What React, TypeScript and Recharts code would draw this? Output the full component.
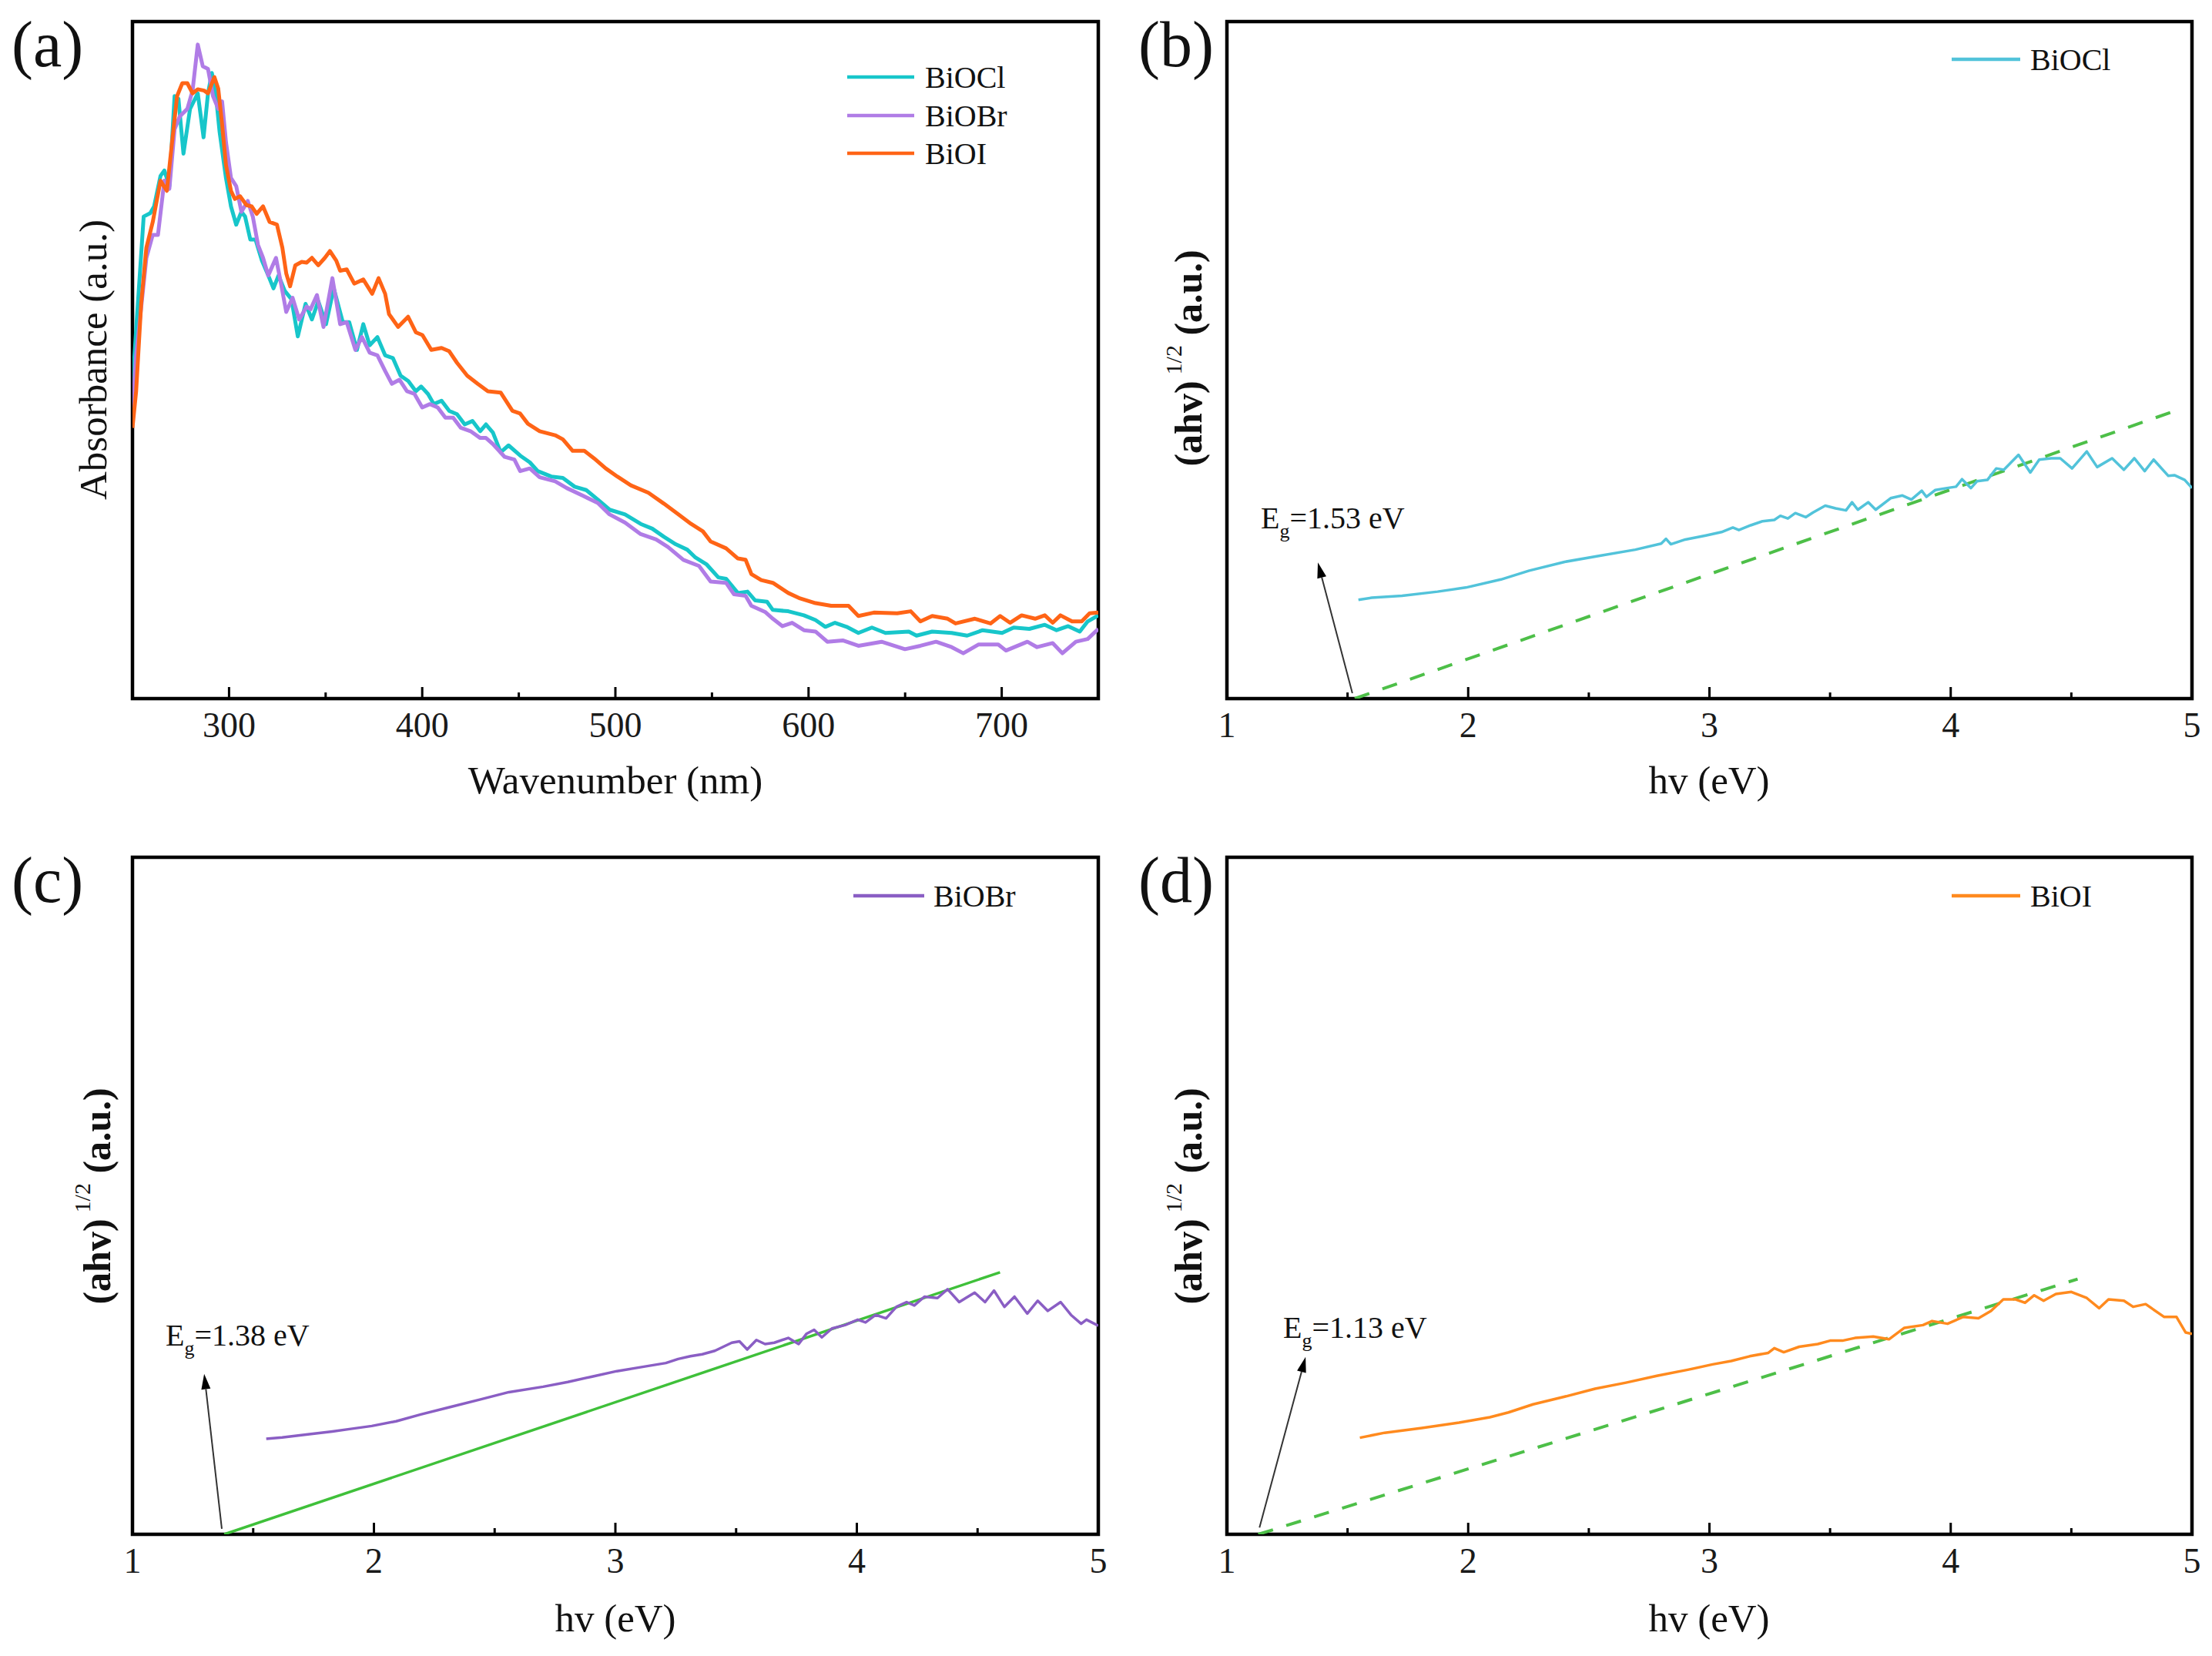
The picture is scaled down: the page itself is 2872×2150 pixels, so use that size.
import React from 'react';
import { LineChart, Line, XAxis, YAxis, ReferenceArea, ReferenceLine } from 'recharts';

const FONT = "'Liberation Serif', 'Times New Roman', Times, serif";

type Pt = [number, number];

// ---------- Panel (a): absorbance vs wavelength ----------
const WAVE_TICKS_MAJOR = [300, 400, 500, 600, 700];
const WAVE_TICKS_MINOR = [350, 450, 550, 650];

const BIOCL_ABS: Pt[] = [
  [250, 0.46], [251.9, 0.545], [255.8, 0.712], [259.2, 0.717], [261.2, 0.727], [264.5, 0.772], [266.5, 0.78],
  [269.1, 0.757], [271.8, 0.89], [273.8, 0.886], [276.4, 0.805], [279.8, 0.871], [283.8, 0.894], [286.8, 0.829],
  [289.1, 0.894], [291.1, 0.924], [293.1, 0.894], [295.1, 0.837], [298.4, 0.769], [301, 0.727], [303.7, 0.7],
  [306.4, 0.719], [308.3, 0.712], [311, 0.678], [313.7, 0.678], [317, 0.647], [320.3, 0.625], [323, 0.606],
  [325.6, 0.625], [328.9, 0.602], [332.3, 0.59], [335.6, 0.535], [339.6, 0.583], [342.9, 0.56], [346.2, 0.587],
  [350.2, 0.553], [354.2, 0.606], [358.9, 0.556], [362.2, 0.556], [366.2, 0.515], [369.5, 0.553], [372.8, 0.522],
  [376.8, 0.534], [380.8, 0.507], [384.8, 0.503], [388.8, 0.477], [392.8, 0.469], [396.7, 0.454], [399.4, 0.461],
  [403, 0.45], [406, 0.435], [410, 0.44], [414, 0.425], [418, 0.42], [422, 0.405], [426, 0.41], [430, 0.395],
  [433, 0.405], [436.6, 0.393], [440.6, 0.364], [444.7, 0.374], [450.7, 0.359], [455.7, 0.349], [459.8, 0.336],
  [466.8, 0.328], [472.8, 0.326], [478.9, 0.313], [484.9, 0.308], [490.9, 0.294], [497, 0.279], [505, 0.272],
  [513.1, 0.258], [519.1, 0.251], [525.1, 0.239], [531.2, 0.228], [537.2, 0.22], [541.2, 0.209], [547.3, 0.198],
  [553.3, 0.179], [557.3, 0.177], [563.4, 0.156], [568.4, 0.158], [572.4, 0.145], [578.5, 0.143], [581.5, 0.131],
  [589.5, 0.129], [597.6, 0.123], [603.6, 0.116], [608.7, 0.106], [613.7, 0.112], [619.7, 0.106], [625.8, 0.097],
  [632.8, 0.105], [639.8, 0.097], [651.9, 0.099], [655.9, 0.093], [664, 0.099], [674.1, 0.097], [682.1, 0.093],
  [690.1, 0.101], [700.2, 0.097], [706.2, 0.105], [714.3, 0.103], [722.3, 0.109], [728.4, 0.101], [734.4, 0.107],
  [740.4, 0.099], [744.5, 0.114], [750, 0.123],
];

const BIOBR_ABS: Pt[] = [
  [250, 0.42], [251.9, 0.507], [257.2, 0.651], [260.5, 0.685], [263.2, 0.685], [266.5, 0.765], [269.1, 0.753],
  [271.8, 0.841], [274.5, 0.86], [278.4, 0.871], [281.1, 0.898], [283.8, 0.966], [286.4, 0.934], [289.1, 0.93],
  [291.7, 0.89], [294.4, 0.871], [296.4, 0.882], [298.4, 0.822], [301, 0.769], [303.7, 0.757], [306.4, 0.719],
  [309.7, 0.735], [312.3, 0.712], [315, 0.67], [317.6, 0.651], [320.3, 0.625], [324.3, 0.651], [326.9, 0.613],
  [329.6, 0.571], [332.9, 0.592], [336.3, 0.56], [340.2, 0.579], [342.2, 0.575], [345.5, 0.596], [348.9, 0.549],
  [353.5, 0.621], [357.5, 0.553], [360.9, 0.556], [365.4, 0.515], [368.8, 0.534], [372.8, 0.511], [376.8, 0.507],
  [380.8, 0.484], [384.3, 0.465], [388.2, 0.471], [392.1, 0.454], [396, 0.45], [400, 0.43], [404, 0.435],
  [408, 0.43], [412, 0.415], [416, 0.415], [420, 0.4], [425, 0.395], [430, 0.385], [433, 0.385], [436.6, 0.376],
  [442.7, 0.357], [447.7, 0.353], [450.7, 0.336], [455.7, 0.34], [460.8, 0.327], [468.8, 0.321], [474.8, 0.311],
  [482.9, 0.3], [490.9, 0.289], [497, 0.272], [505, 0.26], [513.1, 0.243], [521.1, 0.235], [527.2, 0.224],
  [535.2, 0.205], [543.3, 0.196], [549.3, 0.173], [557.3, 0.171], [561.4, 0.154], [567.4, 0.152], [570.4, 0.137],
  [577.5, 0.128], [581.5, 0.118], [586.5, 0.107], [591.5, 0.112], [597.6, 0.101], [603.6, 0.099], [609.7, 0.084],
  [617.7, 0.086], [625.8, 0.078], [637.8, 0.084], [649.9, 0.073], [657.9, 0.078], [666, 0.084], [674.1, 0.076],
  [680.1, 0.067], [688.1, 0.08], [698.2, 0.08], [702.2, 0.071], [713.3, 0.084], [718.3, 0.076], [726.4, 0.082],
  [731.4, 0.067], [738.4, 0.084], [744.5, 0.088], [750, 0.103],
];

const BIOI_ABS: Pt[] = [
  [250, 0.4], [251.9, 0.454], [254.5, 0.583], [257.2, 0.666], [260.5, 0.704], [264.5, 0.765], [267.8, 0.75],
  [270.5, 0.822], [273.1, 0.89], [275.8, 0.909], [278.4, 0.909], [281.1, 0.894], [283.8, 0.9], [287.1, 0.898],
  [289.1, 0.894], [292.4, 0.918], [294.4, 0.901], [296.4, 0.848], [298.4, 0.788], [301, 0.75], [303, 0.738],
  [305.7, 0.742], [309, 0.729], [311.7, 0.727], [314.3, 0.716], [317.6, 0.727], [321, 0.704], [324.8, 0.7],
  [327.6, 0.666], [329.6, 0.628], [331.6, 0.609], [334.3, 0.64], [337.6, 0.645], [340.2, 0.644], [342.9, 0.651],
  [346.2, 0.64], [349.6, 0.651], [352.2, 0.661], [355.5, 0.647], [357.5, 0.632], [360.9, 0.634], [364.8, 0.613],
  [369.5, 0.619], [374.1, 0.598], [377.4, 0.621], [380.8, 0.598], [382.8, 0.568], [387.5, 0.549], [392.7, 0.564],
  [396.7, 0.541], [400.1, 0.537], [404.7, 0.515], [410, 0.518], [414, 0.513], [418, 0.496], [423.3, 0.477],
  [428.7, 0.465], [434, 0.454], [440.6, 0.452], [446.7, 0.425], [450.7, 0.421], [454.7, 0.406], [460.8, 0.395],
  [468.8, 0.389], [472.8, 0.383], [477.9, 0.366], [483.9, 0.366], [488.9, 0.355], [495, 0.34], [501, 0.328],
  [508, 0.315], [517.1, 0.304], [525.1, 0.288], [532.2, 0.273], [539.2, 0.258], [545.3, 0.247], [549.3, 0.232],
  [557.3, 0.222], [563.4, 0.207], [567.4, 0.205], [570.4, 0.184], [575.5, 0.175], [581.5, 0.171], [589.5, 0.156],
  [595.6, 0.148], [603.6, 0.141], [611.7, 0.137], [620.7, 0.137], [625.8, 0.122], [633.8, 0.127], [645.9, 0.126],
  [652.9, 0.129], [657.9, 0.114], [664, 0.122], [672, 0.118], [676.1, 0.111], [686.1, 0.118], [694.2, 0.111],
  [699.2, 0.122], [704.3, 0.112], [710.3, 0.123], [717.3, 0.118], [722.3, 0.123], [726.4, 0.112], [730.4, 0.123],
  [736.4, 0.114], [741.4, 0.114], [745.5, 0.126], [750, 0.127],
];

// ---------- Panels (b)-(d): Tauc plots ----------
const ENERGY_TICKS_MAJOR = [1, 2, 3, 4, 5];
const ENERGY_TICKS_MINOR = [1.5, 2.5, 3.5, 4.5];

const BIOCL_TAUC: Pt[] = [
  [1.545, 0.146], [1.6, 0.149], [1.726, 0.152], [1.873, 0.158], [1.99, 0.164], [2.136, 0.176], [2.253, 0.189],
  [2.4, 0.202], [2.546, 0.211], [2.693, 0.22], [2.8, 0.229], [2.82, 0.236], [2.84, 0.228], [2.9, 0.235],
  [2.985, 0.241], [3.05, 0.246], [3.097, 0.2526], [3.122, 0.249], [3.171, 0.256], [3.22, 0.262], [3.269, 0.264],
  [3.294, 0.27], [3.325, 0.266], [3.356, 0.274], [3.399, 0.268], [3.43, 0.275], [3.48, 0.285], [3.523, 0.281],
  [3.566, 0.278], [3.591, 0.29], [3.615, 0.279], [3.658, 0.29], [3.689, 0.279], [3.751, 0.296], [3.8, 0.3],
  [3.837, 0.294], [3.88, 0.307], [3.899, 0.298], [3.936, 0.308], [3.985, 0.311], [4.022, 0.313], [4.047, 0.324],
  [4.084, 0.311], [4.109, 0.321], [4.152, 0.323], [4.189, 0.34], [4.22, 0.338], [4.281, 0.36], [4.33, 0.334],
  [4.367, 0.353], [4.417, 0.355], [4.454, 0.355], [4.503, 0.34], [4.564, 0.365], [4.607, 0.342], [4.669, 0.355],
  [4.718, 0.338], [4.761, 0.355], [4.804, 0.336], [4.841, 0.353], [4.902, 0.329], [4.927, 0.33], [4.97, 0.323],
  [5.0, 0.311],
];
const BIOCL_FIT: Pt[] = [[1.53, 0], [4.93, 0.425]];

const BIOBR_TAUC: Pt[] = [
  [1.554, 0.141], [1.62, 0.143], [1.686, 0.146], [1.76, 0.149], [1.828, 0.152], [1.91, 0.156], [1.991, 0.16],
  [2.092, 0.167], [2.194, 0.177], [2.316, 0.188], [2.438, 0.199], [2.559, 0.21], [2.701, 0.218], [2.803, 0.225],
  [2.904, 0.233], [3.006, 0.241], [3.108, 0.247], [3.209, 0.253], [3.26, 0.259], [3.311, 0.263], [3.36, 0.266],
  [3.412, 0.271], [3.482, 0.283], [3.514, 0.285], [3.546, 0.273], [3.584, 0.287], [3.62, 0.281], [3.658, 0.283],
  [3.716, 0.29], [3.759, 0.281], [3.791, 0.296], [3.823, 0.302], [3.855, 0.291], [3.897, 0.304], [3.951, 0.309],
  [4.004, 0.317], [4.036, 0.313], [4.078, 0.324], [4.121, 0.319], [4.164, 0.336], [4.206, 0.343], [4.238, 0.338],
  [4.28, 0.351], [4.334, 0.349], [4.376, 0.362], [4.424, 0.343], [4.451, 0.349], [4.488, 0.357], [4.531, 0.343],
  [4.568, 0.36], [4.611, 0.336], [4.653, 0.351], [4.706, 0.326], [4.749, 0.345], [4.791, 0.33], [4.844, 0.343],
  [4.887, 0.324], [4.929, 0.311], [4.951, 0.317], [5.0, 0.308],
];
const BIOBR_FIT: Pt[] = [[1.38, 0], [4.593, 0.387]];

const BIOI_TAUC: Pt[] = [
  [1.551, 0.1426], [1.654, 0.15], [1.808, 0.157], [1.962, 0.165], [2.09, 0.173], [2.167, 0.18], [2.269, 0.192],
  [2.397, 0.203], [2.526, 0.215], [2.654, 0.224], [2.782, 0.234], [2.91, 0.243], [3.013, 0.251], [3.09, 0.256],
  [3.167, 0.263], [3.244, 0.268], [3.269, 0.275], [3.308, 0.269], [3.372, 0.277], [3.449, 0.281], [3.5, 0.286],
  [3.551, 0.286], [3.603, 0.29], [3.679, 0.292], [3.744, 0.288], [3.808, 0.305], [3.885, 0.309], [3.923, 0.315],
  [3.987, 0.311], [4.051, 0.321], [4.115, 0.319], [4.167, 0.33], [4.218, 0.347], [4.269, 0.347], [4.308, 0.342],
  [4.346, 0.353], [4.385, 0.345], [4.436, 0.355], [4.5, 0.358], [4.564, 0.349], [4.615, 0.334], [4.654, 0.347],
  [4.718, 0.345], [4.756, 0.336], [4.808, 0.34], [4.885, 0.321], [4.936, 0.321], [4.974, 0.298], [5.0, 0.296],
];
const BIOI_FIT: Pt[] = [[1.13, 0], [4.526, 0.377]];

const BAND_GAPS = ['1.53', '1.38', '1.13'];

// ---------- layout ----------
const AXIS_H = 60;
type Rect = { x: number; y: number; w: number; h: number };

const toRows = (pts: Pt[]) => pts.map(([x, y]) => ({ x, y }));

const renderTick = (majors: number[]) => (props: any) => {
  const { x, y, payload } = props;
  const v = payload.value;
  const major = majors.some((m) => Math.abs(m - v) < 1e-9);
  return (
    <g>
      <line x1={x} x2={x} y1={y} y2={y - (major ? 15 : 8)} stroke="#000" strokeWidth={3} />
      {major && (
        <text x={x} y={y + 50} textAnchor="middle" fontFamily={FONT} fontSize={46} fill="#1a1a1a">
          {v}
        </text>
      )}
    </g>
  );
};

type Series = { name: string; color: string; width: number; points: Pt[] };
type Fit = { points: Pt[]; color: string; width: number; dash?: string };
type Arrow = { from: Pt; to: Pt; gap: string; dx: number; dy: number };

const ArrowShape = (p: any) => {
  const { x1, y1, x2, y2, gap, dx, dy } = p;
  const len = Math.hypot(x2 - x1, y2 - y1) || 1;
  const ux = (x2 - x1) / len;
  const uy = (y2 - y1) / len;
  const L = 20;
  const W = 6;
  const bx = x2 - ux * L;
  const by = y2 - uy * L;
  const nx = -uy;
  const ny = ux;
  return (
    <g>
      <line x1={x1} y1={y1} x2={bx} y2={by} stroke="#333" strokeWidth={2} />
      <polygon points={`${x2},${y2} ${bx + nx * W},${by + ny * W} ${bx - nx * W},${by - ny * W}`} fill="#000" />
      <text x={x2 + dx} y={y2 + dy} fontFamily={FONT} fontSize={40} fill="#111">
        E<tspan fontSize={26} dy={12}>g</tspan>
        <tspan dy={-12}>={gap} eV</tspan>
      </text>
    </g>
  );
};

function Panel(props: {
  box: Rect;
  plot: Rect;
  xDomain: [number, number];
  majors: number[];
  minors: number[];
  series: Series[];
  fit?: Fit;
  arrow?: Arrow;
}) {
  const { box, plot, xDomain, majors, minors, series, fit, arrow } = props;
  const margin = {
    top: plot.y - box.y,
    left: plot.x - box.x,
    right: box.x + box.w - (plot.x + plot.w),
    bottom: box.y + box.h - (plot.y + plot.h) - AXIS_H,
  };
  const ticks = [...majors, ...minors].sort((a, b) => a - b);
  return (
    <div style={{ position: 'absolute', left: box.x, top: box.y, width: box.w, height: box.h }}>
      <LineChart width={box.w} height={box.h} margin={margin}>
        <XAxis
          type="number"
          dataKey="x"
          domain={xDomain}
          allowDataOverflow
          ticks={ticks}
          interval={0}
          tickLine={false}
          axisLine={false}
          tickSize={0}
          tickMargin={0}
          height={AXIS_H}
          tick={renderTick(majors)}
        />
        <YAxis type="number" domain={[0, 1]} allowDataOverflow hide width={0} />
        <ReferenceArea
          x1={xDomain[0]}
          x2={xDomain[1]}
          y1={0}
          y2={1}
          fill="none"
          fillOpacity={0}
          stroke="#000"
          strokeWidth={4.5}
          ifOverflow="visible"
        />
        {fit && (
          <Line
            data={toRows(fit.points)}
            dataKey="y"
            type="linear"
            stroke={fit.color}
            strokeWidth={fit.width}
            strokeDasharray={fit.dash}
            dot={false}
            activeDot={false}
            isAnimationActive={false}
          />
        )}
        {series.map((s) => (
          <Line
            key={s.name}
            data={toRows(s.points)}
            dataKey="y"
            name={s.name}
            type="linear"
            stroke={s.color}
            strokeWidth={s.width}
            strokeLinejoin="round"
            dot={false}
            activeDot={false}
            isAnimationActive={false}
          />
        ))}
        {arrow && (
          <ReferenceLine
            segment={[
              { x: arrow.from[0], y: arrow.from[1] },
              { x: arrow.to[0], y: arrow.to[1] },
            ]}
            ifOverflow="visible"
            shape={(p: any) => <ArrowShape {...p} gap={arrow.gap} dx={arrow.dx} dy={arrow.dy} />}
          />
        )}
      </LineChart>
    </div>
  );
}

const SERIES_A: Series[] = [
  { name: 'BiOCl', color: '#17C6CA', width: 5, points: BIOCL_ABS },
  { name: 'BiOBr', color: '#B07CE6', width: 5, points: BIOBR_ABS },
  { name: 'BiOI', color: '#FF6416', width: 5, points: BIOI_ABS },
];
const SERIES_B: Series[] = [{ name: 'BiOCl', color: '#52C3DA', width: 3.5, points: BIOCL_TAUC }];
const SERIES_C: Series[] = [{ name: 'BiOBr', color: '#8A5EC4', width: 3.5, points: BIOBR_TAUC }];
const SERIES_D: Series[] = [{ name: 'BiOI', color: '#FF8A1E', width: 3.5, points: BIOI_TAUC }];

const PLOT_A: Rect = { x: 172, y: 28, w: 1254, h: 879 };
const PLOT_B: Rect = { x: 1593, y: 28, w: 1253, h: 879 };
const PLOT_C: Rect = { x: 172, y: 1113, w: 1254, h: 879 };
const PLOT_D: Rect = { x: 1593, y: 1113, w: 1253, h: 879 };

function Legend({ x1, x2, tx, ys, series }: { x1: number; x2: number; tx: number; ys: number[]; series: Series[] }) {
  return (
    <g>
      {series.map((s, i) => (
        <g key={s.name}>
          <line x1={x1} x2={x2} y1={ys[i]} y2={ys[i]} stroke={s.color} strokeWidth={4.5} />
          <text x={tx} y={ys[i]} dominantBaseline="central" fontFamily={FONT} fontSize={40} fill="#111">
            {s.name}
          </text>
        </g>
      ))}
    </g>
  );
}

function TaucLabel({ cx, cy }: { cx: number; cy: number }) {
  return (
    <text
      x={cx}
      y={cy}
      transform={`rotate(-90, ${cx}, ${cy})`}
      textAnchor="middle"
      dominantBaseline="central"
      fontFamily={FONT}
      fontSize={50}
      fontWeight="bold"
      fill="#111"
    >
      (ahv)
      <tspan fontSize={30} fontWeight="normal" dx={8} dy={-20}>1/2</tspan>
      <tspan dy={20}> (a.u.)</tspan>
    </text>
  );
}

export default function App() {
  const titleStyle = { fontFamily: FONT, fontSize: 51, fill: '#111' } as const;
  return (
    <div style={{ position: 'absolute', left: 0, top: 0, width: 2872, height: 2150, background: '#fff', overflow: 'hidden' }}>
      <Panel
        box={{ x: 0, y: 0, w: 1440, h: 1075 }}
        plot={PLOT_A}
        xDomain={[250, 750]}
        majors={WAVE_TICKS_MAJOR}
        minors={WAVE_TICKS_MINOR}
        series={SERIES_A}
      />
      <Panel
        box={{ x: 1436, y: 0, w: 1436, h: 1075 }}
        plot={PLOT_B}
        xDomain={[1, 5]}
        majors={ENERGY_TICKS_MAJOR}
        minors={ENERGY_TICKS_MINOR}
        series={SERIES_B}
        fit={{ points: BIOCL_FIT, color: '#4DBF48', width: 4, dash: '20 18' }}
        arrow={{ from: [1.52, 0.008], to: [1.377, 0.201], gap: BAND_GAPS[0], dx: -74, dy: -44 }}
      />
      <Panel
        box={{ x: 0, y: 1075, w: 1440, h: 1075 }}
        plot={PLOT_C}
        xDomain={[1, 5]}
        majors={ENERGY_TICKS_MAJOR}
        minors={ENERGY_TICKS_MINOR}
        series={SERIES_C}
        fit={{ points: BIOBR_FIT, color: '#3FC03A', width: 3.5 }}
        arrow={{ from: [1.37, 0.008], to: [1.297, 0.237], gap: BAND_GAPS[1], dx: -50, dy: -37 }}
      />
      <Panel
        box={{ x: 1436, y: 1075, w: 1436, h: 1075 }}
        plot={PLOT_D}
        xDomain={[1, 5]}
        majors={ENERGY_TICKS_MAJOR}
        minors={ENERGY_TICKS_MINOR}
        series={SERIES_D}
        fit={{ points: BIOI_FIT, color: '#4DBF48', width: 4, dash: '20 18' }}
        arrow={{ from: [1.135, 0.01], to: [1.326, 0.262], gap: BAND_GAPS[2], dx: -29, dy: -25 }}
      />
      <svg
        width={2872}
        height={2150}
        style={{ position: 'absolute', left: 0, top: 0, pointerEvents: 'none' }}
      >
        {/* panel labels */}
        <text x={15} y={86} fontFamily={FONT} fontSize={84} fill="#111">(a)</text>
        <text x={1478} y={86} fontFamily={FONT} fontSize={84} fill="#111">(b)</text>
        <text x={15} y={1171} fontFamily={FONT} fontSize={84} fill="#111">(c)</text>
        <text x={1478} y={1171} fontFamily={FONT} fontSize={84} fill="#111">(d)</text>

        {/* x axis titles */}
        <text x={799} y={1013} textAnchor="middle" dominantBaseline="central" {...titleStyle}>Wavenumber (nm)</text>
        <text x={2219} y={1013} textAnchor="middle" dominantBaseline="central" {...titleStyle}>hv (eV)</text>
        <text x={799} y={2101} textAnchor="middle" dominantBaseline="central" {...titleStyle}>hv (eV)</text>
        <text x={2219} y={2101} textAnchor="middle" dominantBaseline="central" {...titleStyle}>hv (eV)</text>

        {/* y axis titles */}
        <text
          x={121}
          y={467}
          transform="rotate(-90, 121, 467)"
          textAnchor="middle"
          dominantBaseline="central"
          {...titleStyle}
        >
          Absorbance (a.u.)
        </text>
        <TaucLabel cx={1543} cy={465} />
        <TaucLabel cx={126} cy={1553} />
        <TaucLabel cx={1543} cy={1553} />

        {/* legends */}
        <Legend x1={1100} x2={1187} tx={1201} ys={[100, 150, 199]} series={SERIES_A} />
        <Legend x1={2534} x2={2623} tx={2636} ys={[77]} series={SERIES_B} />
        <Legend x1={1108} x2={1200} tx={1212} ys={[1163]} series={SERIES_C} />
        <Legend x1={2534} x2={2623} tx={2636} ys={[1163]} series={SERIES_D} />
      </svg>
    </div>
  );
}
